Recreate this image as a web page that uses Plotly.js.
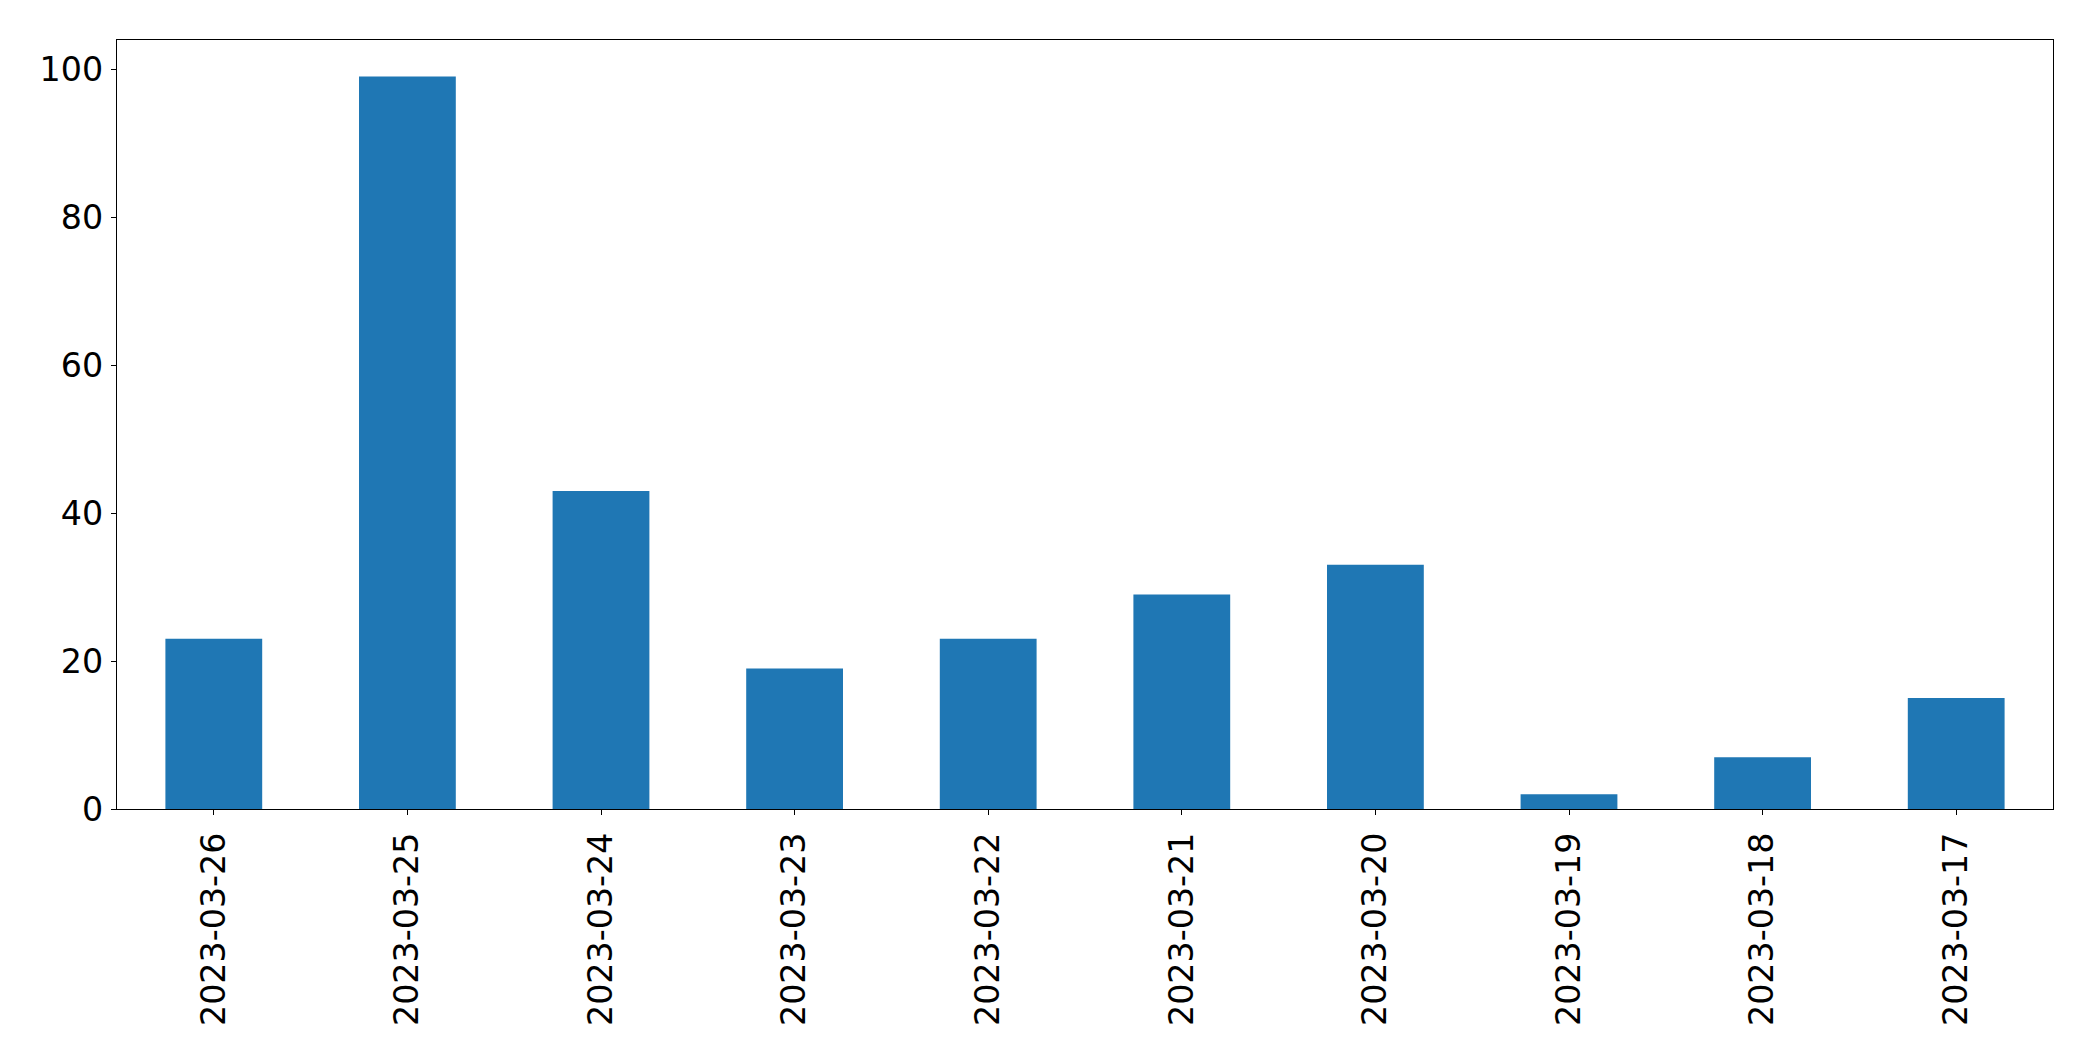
<!DOCTYPE html>
<html>
<head>
<meta charset="utf-8">
<script src="https://cdn.plot.ly/plotly-3.0.1.min.js"></script>
<style>html,body{margin:0;padding:0;background:#fff;}#chart{width:2093px;height:1061px;}</style>
</head>
<body>
<div id="chart"></div>
<script>
const dates = ["2023-03-26","2023-03-25","2023-03-24","2023-03-23","2023-03-22","2023-03-21","2023-03-20","2023-03-19","2023-03-18","2023-03-17"];
const counts = [23, 99, 43, 19, 23, 29, 33, 2, 7, 15];
const yTicks = [0, 20, 40, 60, 80, 100];

const font = {family: "DejaVu Sans", size: 33.3, color: "#000"};
Plotly.newPlot("chart", [{
  type: "bar",
  x: dates,
  y: counts,
  marker: {color: "#1f77b4", line: {width: 0}},
  hoverinfo: "none"
}], {
  width: 2093, height: 1061,
  margin: {l: 116.5, r: 39.5, t: 39.5, b: 252, pad: 0},
  paper_bgcolor: "#fff", plot_bgcolor: "#fff",
  bargap: 0.5,
  showlegend: false,
  font: font,
  xaxis: {
    type: "category",
    range: [-0.5, 9.5],
    tickangle: -90,
    ticks: "outside", ticklen: 5, tickwidth: 1, tickcolor: "#000",
    showline: true, mirror: true, linecolor: "#000", linewidth: 1.2,
    showgrid: false, zeroline: false,
    tickfont: font,
    ticklabelstandoff: 4
  },
  yaxis: {
    range: [0, 103.95],
    tickvals: yTicks,
    ticktext: yTicks.map(String),
    ticks: "outside", ticklen: 5, tickwidth: 1, tickcolor: "#000",
    showline: true, mirror: true, linecolor: "#000", linewidth: 1.2,
    showgrid: false, zeroline: false,
    tickfont: font,
    ticklabelstandoff: 1
  }
}, {staticPlot: true});
</script>
</body>
</html>
